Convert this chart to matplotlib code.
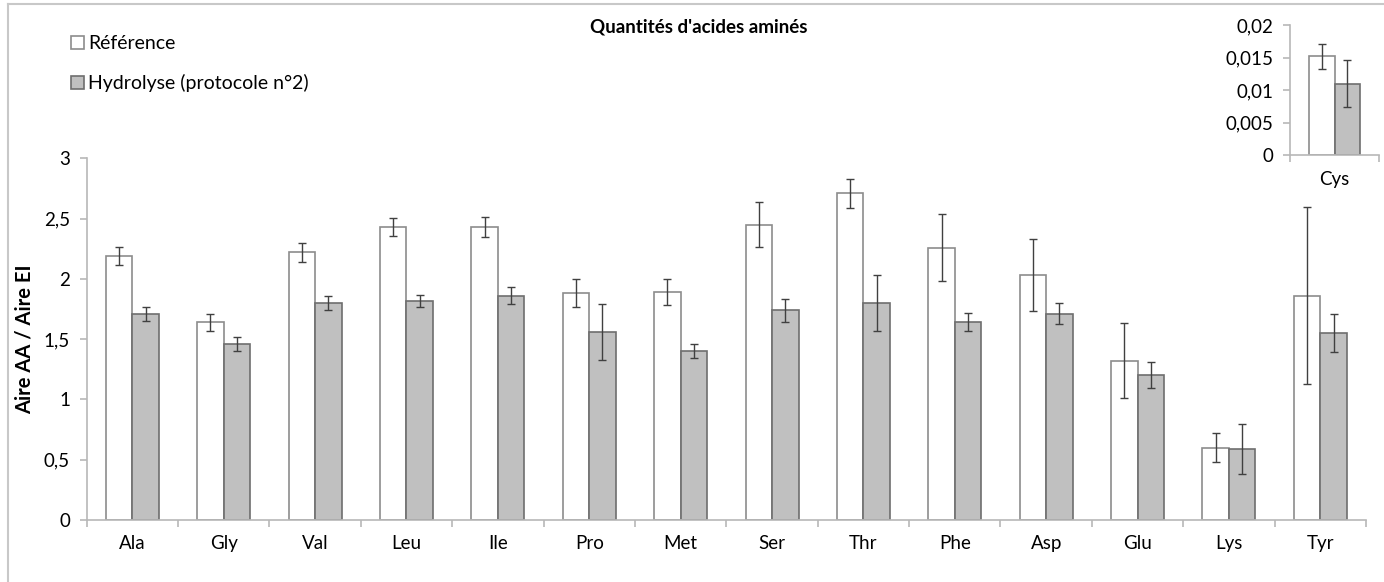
import numpy as np
import matplotlib
matplotlib.use("Agg")
import matplotlib.pyplot as plt
from matplotlib.lines import Line2D

plt.rcParams['font.family'] = ['Lato', 'DejaVu Sans']

acides = ['Ala', 'Gly', 'Val', 'Leu', 'Ile', 'Pro', 'Met', 'Ser', 'Thr', 'Phe', 'Asp', 'Glu', 'Lys', 'Tyr']
reference = [2.19, 1.64, 2.22, 2.43, 2.43, 1.88, 1.89, 2.45, 2.71, 2.26, 2.03, 1.32, 0.60, 1.86]
reference_err = [0.075, 0.072, 0.08, 0.077, 0.085, 0.115, 0.108, 0.185, 0.12, 0.276, 0.30, 0.31, 0.12, 0.735]
hydrolyse = [1.71, 1.46, 1.80, 1.82, 1.86, 1.56, 1.40, 1.74, 1.80, 1.64, 1.71, 1.20, 0.59, 1.55]
hydrolyse_err = [0.06, 0.058, 0.055, 0.05, 0.072, 0.23, 0.06, 0.096, 0.232, 0.075, 0.086, 0.107, 0.205, 0.158]

cys_label = ['Cys']
cys_reference = [0.0152]
cys_reference_err = [0.0019]
cys_hydrolyse = [0.0110]
cys_hydrolyse_err = [0.0036]

y_ticks = [0, 0.5, 1, 1.5, 2, 2.5, 3]
cys_ticks = [0, 0.005, 0.01, 0.015, 0.02]

axis_grey = '#b8b8b8'
white_edge = '#8c8c8c'
grey_fill = '#c0c0c0'
grey_edge = '#6e6e6e'
err_col = '#404040'


def fr(v):
    s = ('%g' % v)
    return s.replace('.', ',')


def style_axes(ax):
    for side in ['top', 'right']:
        ax.spines[side].set_visible(False)
    for side in ['left', 'bottom']:
        ax.spines[side].set_color(axis_grey)
        ax.spines[side].set_linewidth(1.2)
    ax.tick_params(axis='y', colors=axis_grey, labelcolor='black', length=5, width=1.2, labelsize=13.5, pad=7)
    ax.tick_params(axis='x', which='major', length=0, labelsize=13.5, pad=11)
    ax.tick_params(axis='x', which='minor', colors=axis_grey, length=5, width=1.2)


def draw_bars(ax, n, ref, ref_err, hyd, hyd_err):
    ind = np.arange(n)
    width = 0.29
    b1 = ax.bar(ind - width / 2, ref, width, color='white', edgecolor=white_edge, linewidth=1.2,
                label='Référence', zorder=2)
    b2 = ax.bar(ind + width / 2, hyd, width, color=grey_fill, edgecolor=grey_edge, linewidth=1.2,
                label='Hydrolyse (protocole n°2)', zorder=2)
    ax.errorbar(ind - width / 2, ref, yerr=ref_err, fmt='none', ecolor=err_col, elinewidth=1.0,
                capsize=3, capthick=1.0, zorder=3)
    ax.errorbar(ind + width / 2, hyd, yerr=hyd_err, fmt='none', ecolor=err_col, elinewidth=1.0,
                capsize=3, capthick=1.0, zorder=3)
    ax.set_xlim(-0.5, n - 0.5)
    ax.set_xticks(ind)
    ax.set_xticks(np.arange(n + 1) - 0.5, minor=True)
    return b1, b2


fig = plt.figure(figsize=(13.84, 5.82), dpi=100)

# main chart
ax = fig.add_axes([0.0626, 0.1065, 0.9244, 0.6215])
b1, b2 = draw_bars(ax, len(acides), reference, reference_err, hydrolyse, hydrolyse_err)
ax.set_ylim(0, 3)
ax.set_yticks(y_ticks)
ax.set_yticklabels([fr(v) for v in y_ticks])
ax.set_xticklabels(acides)
style_axes(ax)
ax.set_ylabel('Aire AA / Aire EI', fontsize=14.5, fontweight='bold')
ax.yaxis.set_label_coords(-0.041, 0.5)

# small chart for Cys
ax2 = fig.add_axes([0.932, 0.733, 0.0645, 0.224])
draw_bars(ax2, 1, cys_reference, cys_reference_err, cys_hydrolyse, cys_hydrolyse_err)
ax2.set_ylim(0, 0.02)
ax2.set_yticks(cys_ticks)
ax2.set_yticklabels([fr(v) for v in cys_ticks])
ax2.set_xticklabels(cys_label)
style_axes(ax2)

fig.text(0.505, 0.953, "Quantités d'acides aminés", ha='center', va='center', fontsize=13.5, fontweight='bold')

fig.legend(handles=[b1, b2], loc='upper left', bbox_to_anchor=(0.039, 0.97), frameon=False,
           fontsize=14, handlelength=0.65, handleheight=0.65, handletextpad=0.2, labelspacing=1.15)

# outer chart frame (left and top edges visible)
fig.add_artist(Line2D([0.0058, 0.0058], [0.0, 0.993], color='#c8c8c8', lw=1.5))
fig.add_artist(Line2D([0.0058, 1.0], [0.993, 0.993], color='#c8c8c8', lw=1.5))

fig.savefig('out.png', dpi=100, facecolor='white')
